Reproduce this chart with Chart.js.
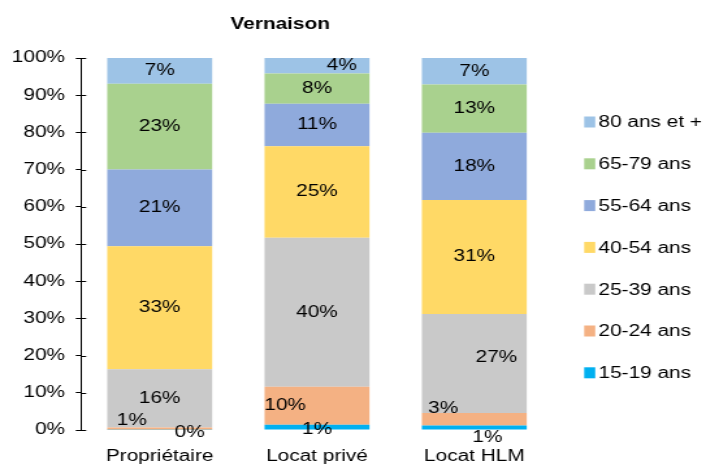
<!DOCTYPE html>
<html>
<head>
<meta charset="utf-8">
<script src="https://cdn.jsdelivr.net/npm/chart.js@4.4.1/dist/chart.umd.min.js"></script>
<style>
  html, body { margin: 0; padding: 0; background: #fff; overflow: hidden; }
  /* l'image d'origine est étirée horizontalement (~1,3) */
  #wrap { width: 543px; height: 465px; transform: scaleX(1.3002); transform-origin: 0 0; }
</style>
</head>
<body>
<div id="wrap"><canvas id="chart" width="543" height="465"></canvas></div>
<script>
// Données (en %)
const categories = ["Propriétaire", "Locat privé", "Locat HLM"];
const ageGroups = ["15-19 ans", "20-24 ans", "25-39 ans", "40-54 ans", "55-64 ans", "65-79 ans", "80 ans et +"];
const age15_19 = [0.1, 1.4, 1.2];
const age20_24 = [0.6, 10.2, 3.4];
const age25_39 = [15.6, 40.1, 26.6];
const age40_54 = [33.1, 24.6, 30.6];
const age55_64 = [20.6, 11.4, 18.1];
const age65_79 = [23.1, 8.1, 13.0];
const age80plus = [6.9, 4.2, 7.1];
const yTicks = [0, 10, 20, 30, 40, 50, 60, 70, 80, 90, 100];

const seriesValues = [age15_19, age20_24, age25_39, age40_54, age55_64, age65_79, age80plus];
const colors = ["#00B0F0", "#F4B183", "#C9C9C9", "#FFD966", "#8FAADC", "#A9D18E", "#9DC3E6"];

const FONT = "'Liberation Sans', Arial, sans-serif";

// décalage des étiquettes (comme dans Excel) : "serie,categorie" -> [dx, dy]
const labelNudge = {
  "0,0": [23, 3],
  "1,0": [-21.5, -8],
  "0,1": [0, 2],
  "1,1": [-24.5, 0],
  "6,1": [19, 0],
  "0,2": [10, 10],
  "1,2": [-24, -11],
  "2,2": [17, -6],
};

const datasets = ageGroups.map((name, i) => ({
  label: name,
  data: seriesValues[i],
  backgroundColor: colors[i],
  borderWidth: 0,
}));

// titre, étiquettes, légende et petits traits de graduation
const extras = {
  id: "extras",
  afterDatasetsDraw(chart) {
    const ctx = chart.ctx;
    ctx.save();
    ctx.font = "16px " + FONT;
    ctx.fillStyle = "#000";
    ctx.textAlign = "center";
    ctx.textBaseline = "middle";
    chart.data.datasets.forEach((ds, di) => {
      const meta = chart.getDatasetMeta(di);
      meta.data.forEach((bar, ci) => {
        const p = bar.getProps(["x", "y", "base"], true);
        const nudge = labelNudge[di + "," + ci] || [0, 0];
        const txt = Math.round(ds.data[ci]) + "%";
        ctx.fillText(txt, p.x + nudge[0], (p.y + p.base) / 2 + nudge[1]);
      });
    });
    ctx.restore();
  },
  afterDraw(chart) {
    const ctx = chart.ctx;
    const area = chart.chartArea;
    const yScale = chart.scales.y;
    ctx.save();

    // traits intérieurs des graduations
    ctx.strokeStyle = "#000";
    ctx.lineWidth = 1;
    yTicks.forEach((v) => {
      const y = Math.round(yScale.getPixelForValue(v)) + 0.5;
      ctx.beginPath();
      ctx.moveTo(area.left, y);
      ctx.lineTo(area.left + 4, y);
      ctx.stroke();
    });

    // titre
    ctx.fillStyle = "#000";
    ctx.font = "bold 16px " + FONT;
    ctx.textAlign = "center";
    ctx.textBaseline = "middle";
    ctx.fillText("Vernaison", 215.5, 25);

    // légende (ordre inversé)
    ctx.font = "16px " + FONT;
    ctx.textAlign = "left";
    const step = 41.8;
    const x0 = area.right + 24;
    const y0 = area.top + 64;
    const items = chart.data.datasets.slice().reverse();
    items.forEach((ds, i) => {
      const y = y0 + i * step;
      ctx.fillStyle = ds.backgroundColor;
      ctx.fillRect(x0, y - 5.5, 8.5, 11);
      ctx.fillStyle = "#000";
      ctx.fillText(ds.label, x0 + 11, y + 1);
    });
    ctx.restore();
  },
};

new Chart(document.getElementById("chart"), {
  type: "bar",
  data: { labels: categories, datasets: datasets },
  options: {
    responsive: false,
    animation: false,
    devicePixelRatio: 1,
    layout: { padding: { top: 58, right: 117.7, bottom: 0, left: 0 } },
    plugins: {
      legend: { display: false },
      title: { display: false },
      tooltip: { enabled: false },
    },
    datasets: {
      bar: { barPercentage: 0.667, categoryPercentage: 1 },
    },
    scales: {
      x: {
        stacked: true,
        grid: { display: false, drawTicks: false },
        border: { display: false },
        ticks: { color: "#000", font: { family: FONT, size: 16 }, padding: 17 },
        afterFit(scale) { scale.height = 35; },
      },
      y: {
        stacked: true,
        min: 0,
        max: 100,
        afterBuildTicks(scale) { scale.ticks = yTicks.map((v) => ({ value: v })); },
        grid: { drawOnChartArea: false, drawTicks: true, tickLength: 4, color: "#000" },
        border: { display: true, color: "#000", width: 1 },
        ticks: {
          color: "#000",
          font: { family: FONT, size: 16 },
          padding: 8.3,
          callback: (v) => v + "%",
        },
        afterFit(scale) { scale.width = 62.3; },
      },
    },
  },
  plugins: [extras],
});
</script>
</body>
</html>
